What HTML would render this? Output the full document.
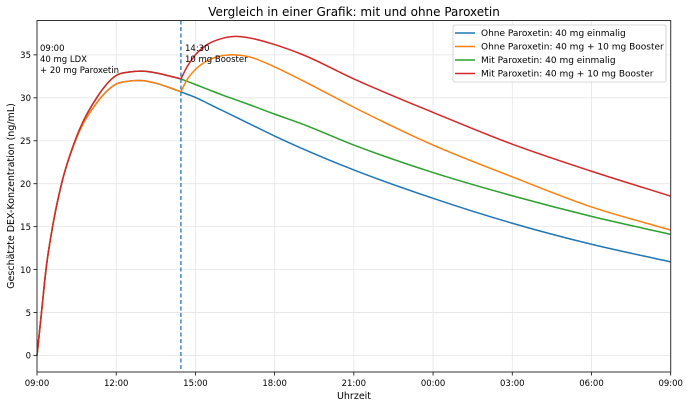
<!DOCTYPE html>
<html><head><meta charset="utf-8">
<style>
html,body{margin:0;padding:0;background:#fff;}
svg{display:block;font-family:"DejaVu Sans","Liberation Sans",sans-serif;}
</style></head>
<body>
<svg id="chart" width="690" height="406" viewBox="0 0 690 406" xmlns="http://www.w3.org/2000/svg">
<rect x="0" y="0" width="690" height="406" fill="#fff"/>
<g id="grid"></g>
<g id="series"></g>
<g id="axes"></g>
<text x="354" y="16" font-size="12" text-anchor="middle" fill="#000">Vergleich in einer Grafik: mit und ohne Paroxetin</text>
<text x="354" y="399" font-size="9.5" text-anchor="middle" fill="#000">Uhrzeit</text>
<text transform="translate(14,196) rotate(-90)" font-size="9.5" text-anchor="middle" fill="#000">Geschätzte DEX-Konzentration (ng/mL)</text>
<g font-size="8.5" fill="#000">
<text x="40" y="51">09:00</text>
<text x="40" y="62">40 mg LDX</text>
<text x="40" y="73">+ 20 mg Paroxetin</text>
</g>
<g font-size="8.5" fill="#000">
<text x="185" y="51">14:30</text>
<text x="185" y="62">10 mg Booster</text>
</g>
<g>
<rect x="453" y="25" width="213" height="57" rx="2" fill="#fff" fill-opacity="0.85" stroke="#ccc" stroke-width="0.8"/>
<g><line x1="455" y1="33" x2="475" y2="33" stroke="#1f77b4" stroke-width="1.5"/><text x="481" y="36.2" font-size="9">Ohne Paroxetin: 40 mg einmalig</text></g>
<g><line x1="455" y1="46.5" x2="475" y2="46.5" stroke="#ff7f0e" stroke-width="1.5"/><text x="481" y="49.7" font-size="9">Ohne Paroxetin: 40 mg + 10 mg Booster</text></g>
<g><line x1="455" y1="60" x2="475" y2="60" stroke="#2ca02c" stroke-width="1.5"/><text x="481" y="63.2" font-size="9">Mit Paroxetin: 40 mg einmalig</text></g>
<g><line x1="455" y1="73.5" x2="475" y2="73.5" stroke="#d62728" stroke-width="1.5"/><text x="481" y="76.7" font-size="9">Mit Paroxetin: 40 mg + 10 mg Booster</text></g>
</g>
</svg>
<script>
// hours since 09:00
const preHours = [0,0.17,0.34,0.59,0.93,1.44,2.26,3,3.5,4,4.5,5,5.45];
const postHours = [5.45,5.7,6,6.5,7,7.5,8,9,10,12,15,18,21,24];
const redPre = [0,5,10,15,20,25,30,32.6,33.0,33.1,32.9,32.55,32.2];
const orangePre = [0,5,10,15,20,24.9,29.4,31.6,31.95,32.0,31.7,31.2,30.7];
const redPost = [32.2,33.7,35.0,36.3,36.9,37.15,37.0,36.2,35.1,32.2,28.3,24.6,21.45,18.55];
const orangePost = [30.7,32.2,33.3,34.4,34.9,35.0,34.8,33.6,32.1,28.9,24.5,20.8,17.3,14.6];
const greenPost = [32.2,31.9,31.55,30.95,30.35,29.8,29.25,28.1,27.0,24.5,21.3,18.6,16.2,14.1];
const bluePost = [30.7,30.4,30.05,29.3,28.55,27.8,27.05,25.55,24.15,21.6,18.3,15.4,12.95,10.9];
const boosterHour = 5.45;
const xTickHours = [0,3,6,9,12,15,18,21,24];
const xTickLabels = ["09:00","12:00","15:00","18:00","21:00","00:00","03:00","06:00","09:00"];
const yTicks = [0,5,10,15,20,25,30,35];

const L=37,R=670.7,T=20.5,B=372;
const X0=0,X1=24,Y0=-1.92,Y1=39.0;
const sx=h=>L+(h-X0)/(X1-X0)*(R-L);
const sy=v=>B-(v-Y0)/(Y1-Y0)*(B-T);
const NS="http://www.w3.org/2000/svg";
function mk(tag,attrs,parent){const e=document.createElementNS(NS,tag);for(const k in attrs)e.setAttribute(k,attrs[k]);parent.appendChild(e);return e;}
const grid=document.getElementById('grid'),axes=document.getElementById('axes'),ser=document.getElementById('series');

xTickHours.forEach((h,i)=>{
  const gl=mk('line',{x1:sx(h),x2:sx(h),y1:T,y2:B,stroke:'#e5e5e5','stroke-width':0.8},grid);
  
  
  const tk=mk('line',{x1:sx(h),x2:sx(h),y1:B,y2:B+3.5,stroke:'#000','stroke-width':0.8},axes);
  
  
  const t=mk('text',{x:sx(h),y:B+14,'font-size':8.5,'text-anchor':'middle',fill:'#000'},axes);
  t.textContent=xTickLabels[i];
  
  
});
yTicks.forEach(v=>{
  const gl=mk('line',{x1:L,x2:R,y1:sy(v),y2:sy(v),stroke:'#e5e5e5','stroke-width':0.8},grid);
  
  
  const tk=mk('line',{x1:L-3.5,x2:L,y1:sy(v),y2:sy(v),stroke:'#000','stroke-width':0.8},axes);
  
  
  const t=mk('text',{x:L-6,y:sy(v)+3.2,'font-size':8.5,'text-anchor':'end',fill:'#000'},axes);
  t.textContent=String(v);
  
  
});
const frame=mk('rect',{x:L,y:T,width:R-L,height:B-T,fill:'none',stroke:'#333','stroke-width':1},axes);



// non-uniform cubic Hermite spline in data space
function pathD(xs,ys){
  const n=xs.length, m=new Array(n);
  for(let i=0;i<n;i++){
    if(i===0) m[i]=(ys[1]-ys[0])/(xs[1]-xs[0]);
    else if(i===n-1) m[i]=(ys[n-1]-ys[n-2])/(xs[n-1]-xs[n-2]);
    else{
      const h0=xs[i]-xs[i-1],h1=xs[i+1]-xs[i];
      const d0=(ys[i]-ys[i-1])/h0,d1=(ys[i+1]-ys[i])/h1;
      m[i]=(d0*h1+d1*h0)/(h0+h1);
    }
  }
  let d=`M${sx(xs[0])},${sy(ys[0])}`;
  for(let i=0;i<n-1;i++){
    const h=xs[i+1]-xs[i];
    const c1x=xs[i]+h/3,c1y=ys[i]+m[i]*h/3;
    const c2x=xs[i+1]-h/3,c2y=ys[i+1]-m[i+1]*h/3;
    d+=` C${sx(c1x)},${sy(c1y)} ${sx(c2x)},${sy(c2y)} ${sx(xs[i+1])},${sy(ys[i+1])}`;
  }
  return d;
}
function draw(xs,ys,color,name){
  const e=mk('path',{d:pathD(xs,ys),fill:'none',stroke:color,'stroke-width':1.5,'stroke-linejoin':'round'},ser);
  
  
}
draw(preHours,orangePre,'#1f77b4','line-ohne-einmalig-pre');
draw(postHours,bluePost,'#1f77b4','line-ohne-einmalig');
draw(preHours,redPre,'#2ca02c','line-mit-einmalig-pre');
draw(postHours,greenPost,'#2ca02c','line-mit-einmalig');
draw(preHours,orangePre,'#ff7f0e','line-ohne-booster-pre');
draw(postHours,orangePost,'#ff7f0e','line-ohne-booster');
draw(preHours,redPre,'#d62728','line-mit-booster-pre');
draw(postHours,redPost,'#d62728','line-mit-booster');

const vl=mk('line',{x1:sx(boosterHour),x2:sx(boosterHour),y1:T,y2:B,stroke:'#1f77b4','stroke-width':1.3,'stroke-dasharray':'4,2.5'},ser);


</script>
</body></html>
